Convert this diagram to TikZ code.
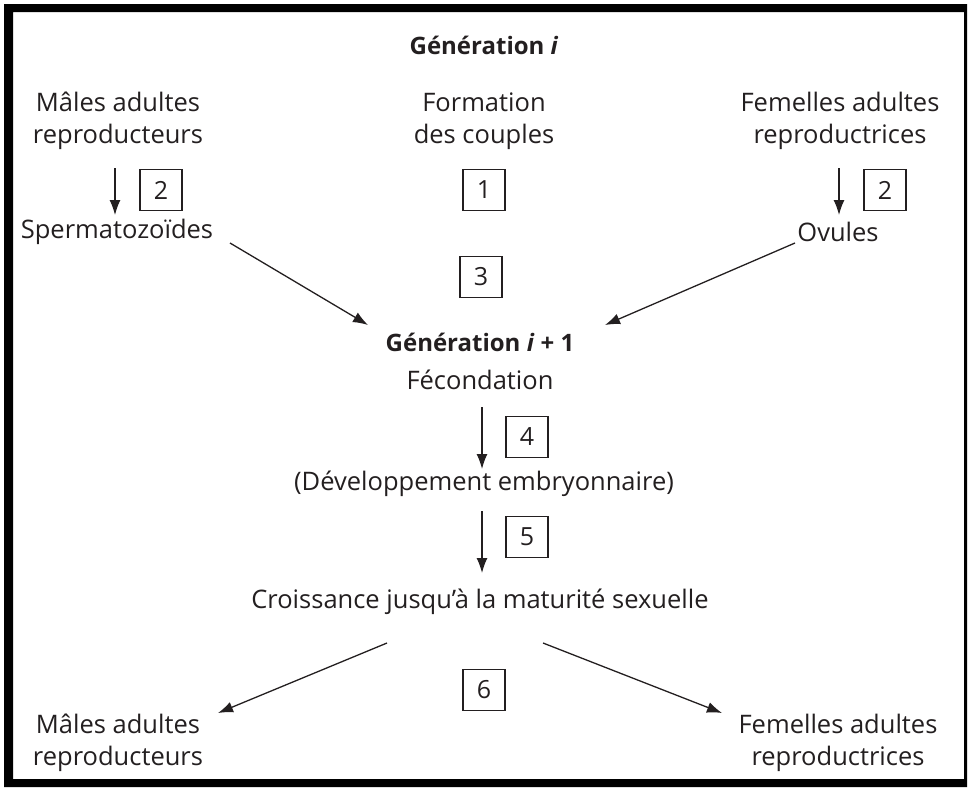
\documentclass[tikz,border=0pt]{standalone}
\usepackage{fontspec}
\setmainfont{Open Sans}
\usetikzlibrary{arrows.meta}
\definecolor{ink}{RGB}{35,31,32}
\begin{document}
\begin{tikzpicture}[x=1pt,y=-1pt,
 txt/.style={text=ink, font=\fontsize{25.5}{32}\selectfont, align=center, inner sep=0pt},
 boldtxt/.style={txt, font=\fontsize{24}{32}\selectfont\bfseries},
 num/.style={draw=ink, line width=1.3pt, minimum width=42pt, minimum height=41pt, text=ink, font=\fontsize{25}{30}\selectfont, inner sep=0pt},
 arr/.style={draw=ink, line width=1.3pt, -{Latex[length=15pt,width=11pt]}}]
\useasboundingbox (0,0) rectangle (968,787);
\fill[black, even odd rule] (4,4) rectangle (967,787) (13,12) rectangle (964,779);
\node[boldtxt] (gen) at (484,45) {Génération \textit{i}};
\node[txt] (mal1) at (118,121) {Mâles adultes\\reproducteurs};
\node[txt] (form) at (484,121) {Formation\\des couples};
\node[txt] (fem1) at (840,121) {Femelles adultes\\reproductrices};
\node[num] (b2l) at (161,190) {2};
\node[num] (b1) at (484,190) {1};
\node[num] (b2r) at (885,190) {2};
\node[txt] (sperm) at (117,232) {Spermatozoïdes};
\node[txt] (ovul) at (838,232) {Ovules};
\node[num] (b3) at (481,277) {3};
\node[boldtxt] (gen1) at (480,342) {Génération \textit{i} + 1};
\node[txt] (fec) at (480,380) {Fécondation};
\node[num] (b4) at (527,437) {4};
\node[txt] (dev) at (484,484) {(Développement embryonnaire)};
\node[num] (b5) at (527,537) {5};
\node[txt] (crois) at (480,602) {Croissance jusqu’à la maturité sexuelle};
\node[num] (b6) at (484,690) {6};
\node[txt] (mal2) at (118,743) {Mâles adultes\\reproducteurs};
\node[txt] (fem2) at (838,743) {Femelles adultes\\reproductrices};
\draw[arr] ([shift={(-3,47)}]mal1.center) -- ([shift={(-2,-17)}]sperm.center);
\draw[arr] ([shift={(-1,47)}]fem1.center) -- ([shift={(1,-17)}]ovul.center);
\draw[arr] ([shift={(113,11)}]sperm.center) -- ([shift={(-112,-17)}]gen1.center);
\draw[arr] ([shift={(-43,11)}]ovul.center) -- ([shift={(125,-17)}]gen1.center);
\draw[arr] ([shift={(2,27)}]fec.center) -- ([shift={(-2,-15)}]dev.center);
\draw[arr] ([shift={(-2,27)}]dev.center) -- ([shift={(2,-29)}]crois.center);
\draw[arr] ([shift={(-93,41)}]crois.center) -- ([shift={(100,-30)}]mal2.center);
\draw[arr] ([shift={(63,41)}]crois.center) -- ([shift={(-116,-30)}]fem2.center);
\end{tikzpicture}
\end{document}
